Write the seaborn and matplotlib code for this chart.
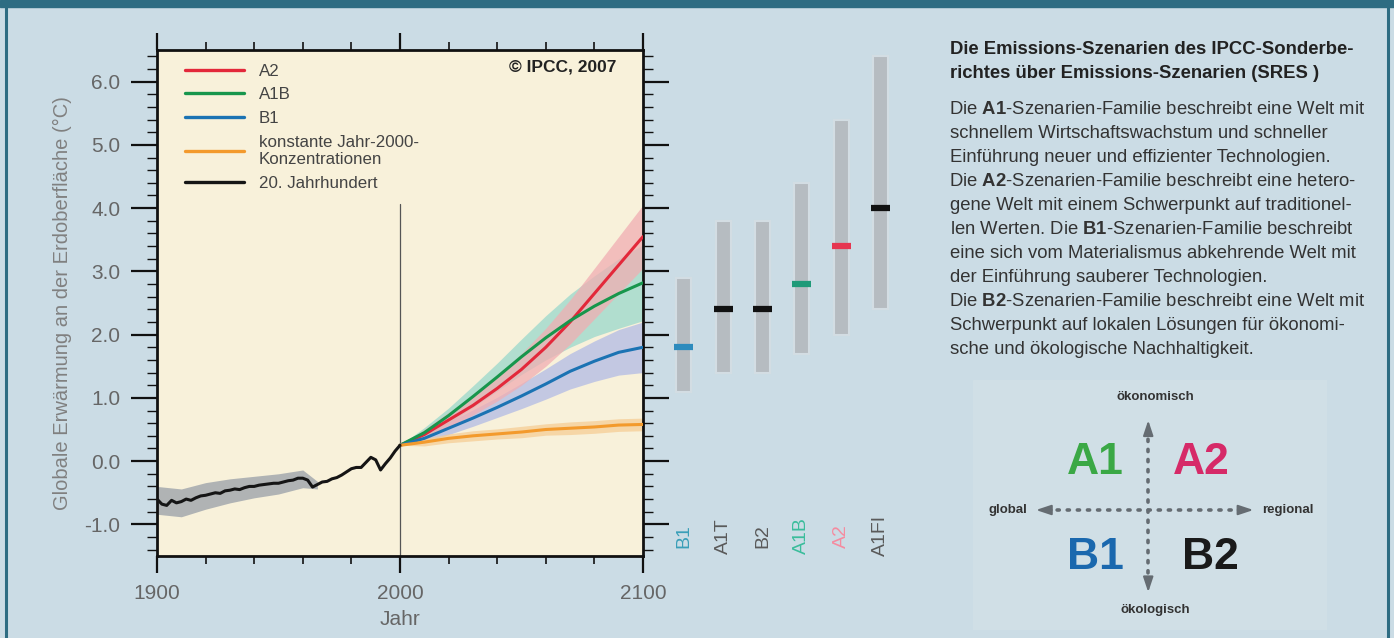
import numpy as np
import pandas as pd
import seaborn as sns
import matplotlib.pyplot as plt
from matplotlib.lines import Line2D
from matplotlib.ticker import MultipleLocator, FormatStrFormatter

# ---- data ----
hist_years = [1900, 1902, 1904, 1906, 1908, 1910, 1912, 1914, 1916, 1918,
              1920, 1922, 1924, 1926, 1928, 1930, 1932, 1934, 1936, 1938,
              1940, 1942, 1944, 1946, 1948, 1950, 1952, 1954, 1956, 1958,
              1960, 1962, 1964, 1966, 1968, 1970, 1972, 1974, 1976, 1978,
              1980, 1982, 1984, 1986, 1988, 1990, 1992, 1994, 1996, 1998, 2000]
hist_temp = [-0.60, -0.68, -0.70, -0.62, -0.66, -0.64, -0.60, -0.62, -0.58, -0.55,
             -0.54, -0.52, -0.50, -0.51, -0.47, -0.46, -0.44, -0.45, -0.42, -0.40,
             -0.40, -0.38, -0.37, -0.36, -0.35, -0.35, -0.33, -0.31, -0.30, -0.27,
             -0.27, -0.30, -0.41, -0.37, -0.33, -0.32, -0.28, -0.26, -0.22, -0.17,
             -0.12, -0.10, -0.10, -0.02, 0.06, 0.02, -0.14, -0.04, 0.05, 0.16, 0.25]
hist_band_years = [1900, 1910, 1920, 1930, 1940, 1950, 1960, 1966]
hist_band_lo = [-0.84, -0.88, -0.76, -0.66, -0.58, -0.52, -0.42, -0.44]
hist_band_hi = [-0.40, -0.44, -0.34, -0.28, -0.24, -0.20, -0.14, -0.32]

proj_years = [2000, 2010, 2020, 2030, 2040, 2050, 2060, 2070, 2080, 2090, 2100]
a2 = [0.25, 0.42, 0.65, 0.88, 1.15, 1.45, 1.80, 2.20, 2.65, 3.10, 3.55]
a1b = [0.25, 0.45, 0.72, 1.02, 1.33, 1.65, 1.95, 2.22, 2.45, 2.65, 2.82]
b1 = [0.25, 0.36, 0.52, 0.68, 0.85, 1.03, 1.22, 1.42, 1.58, 1.72, 1.80]
const2000 = [0.25, 0.30, 0.36, 0.40, 0.43, 0.46, 0.50, 0.52, 0.54, 0.57, 0.58]
a2_spread = [0.0, 0.08, 0.12, 0.15, 0.20, 0.25, 0.30, 0.35, 0.40, 0.45, 0.50]
a1b_spread = [0.0, 0.08, 0.12, 0.17, 0.22, 0.28, 0.35, 0.42, 0.48, 0.55, 0.60]
b1_spread = [0.0, 0.07, 0.10, 0.13, 0.16, 0.20, 0.24, 0.28, 0.32, 0.36, 0.40]
const_spread = [0.0, 0.06, 0.07, 0.08, 0.08, 0.09, 0.09, 0.10, 0.10, 0.10, 0.10]

bar_names = ["B1", "A1T", "B2", "A1B", "A2", "A1FI"]
bar_low = [1.1, 1.4, 1.4, 1.7, 2.0, 2.4]
bar_high = [2.9, 3.8, 3.8, 4.4, 5.4, 6.4]
bar_best = [1.8, 2.4, 2.4, 2.8, 3.4, 4.0]

text_title = ["Die Emissions-Szenarien des IPCC-Sonderbe-",
              "richtes über Emissions-Szenarien (SRES )"]
text_body = [r"Die $\mathbf{A1}$-Szenarien-Familie beschreibt eine Welt mit",
             "schnellem Wirtschaftswachstum und schneller",
             "Einführung neuer und effizienter Technologien.",
             r"Die $\mathbf{A2}$-Szenarien-Familie beschreibt eine hetero-",
             "gene Welt mit einem Schwerpunkt auf traditionel-",
             r"len Werten. Die $\mathbf{B1}$-Szenarien-Familie beschreibt",
             "eine sich vom Materialismus abkehrende Welt mit",
             "der Einführung sauberer Technologien.",
             r"Die $\mathbf{B2}$-Szenarien-Familie beschreibt eine Welt mit",
             "Schwerpunkt auf lokalen Lösungen für ökonomi-",
             "sche und ökologische Nachhaltigkeit."]

# ---- style ----
sns.set_style("ticks")
plt.rcParams['font.family'] = ['Liberation Sans', 'DejaVu Sans']
plt.rcParams['mathtext.fontset'] = 'custom'
plt.rcParams['mathtext.rm'] = 'Liberation Sans'
plt.rcParams['mathtext.bf'] = 'Liberation Sans:bold'
plt.rcParams['axes.unicode_minus'] = False

page_bg = "#cbdce5"
frame_col = "#2e6c82"
cols = {"A2": "#e3283a", "A1B": "#17964c", "B1": "#1b73b3",
        "konstante Jahr-2000-\nKonzentrationen": "#f39a2c",
        "20. Jahrhundert": "#151515"}
bands = {"A2": "#f1aeb2", "A1B": "#9ad8cc", "B1": "#b2bbe6", "const": "#f6cd95"}

fig = plt.figure(figsize=(13.94, 6.38), dpi=100, facecolor=page_bg)

# page frame
fig.patches.append(plt.Rectangle((0, 638 - 7), 1394, 7, transform=None,
                                 color=frame_col, zorder=0))
fig.add_artist(Line2D([6 / 1394, 6 / 1394], [0, 1], color=frame_col, lw=2.2))
fig.add_artist(Line2D([1388 / 1394, 1388 / 1394], [0, 1], color=frame_col, lw=2.2))

# ---- main time series axes ----
ax = fig.add_axes([157 / 1394, (638 - 556) / 638, 486 / 1394, 506 / 638])
ax.set_facecolor("#f8f1da")

ax.fill_between(hist_band_years, hist_band_lo, hist_band_hi, color="#9ea4ab",
                alpha=0.8, lw=0, zorder=1)
p = np.array(proj_years)
for name, mean, spr in [("B1", b1, b1_spread), ("A1B", a1b, a1b_spread),
                        ("A2", a2, a2_spread), ("const", const2000, const_spread)]:
    m = np.array(mean)
    s = np.array(spr)
    ax.fill_between(p, m - s, m + s, color=bands[name], alpha=0.75, lw=0, zorder=1)

df = pd.concat([
    pd.DataFrame({"Jahr": hist_years, "T": hist_temp, "Szenario": "20. Jahrhundert"}),
    pd.DataFrame({"Jahr": proj_years, "T": const2000,
                  "Szenario": "konstante Jahr-2000-\nKonzentrationen"}),
    pd.DataFrame({"Jahr": proj_years, "T": b1, "Szenario": "B1"}),
    pd.DataFrame({"Jahr": proj_years, "T": a1b, "Szenario": "A1B"}),
    pd.DataFrame({"Jahr": proj_years, "T": a2, "Szenario": "A2"}),
])
order = ["A2", "A1B", "B1", "konstante Jahr-2000-\nKonzentrationen", "20. Jahrhundert"]
sns.lineplot(data=df, x="Jahr", y="T", hue="Szenario", hue_order=order,
             palette=cols, linewidth=2.2, legend=False, ax=ax, zorder=3)

ax.axvline(2000, ymin=0, ymax=0.695, color="#555555", lw=0.9, zorder=2)

ax.set_xlim(1900, 2100)
ax.set_ylim(-1.5, 6.5)
ax.xaxis.set_major_locator(MultipleLocator(100))
ax.xaxis.set_minor_locator(MultipleLocator(20))
ax.yaxis.set_major_locator(MultipleLocator(1))
ax.yaxis.set_minor_locator(MultipleLocator(0.2))
ax.yaxis.set_major_formatter(FormatStrFormatter("%.1f"))
ax.tick_params(axis="x", which="both", top=True, direction="out", colors="#111111",
               labelcolor="#666666", labelsize=15)
ax.tick_params(axis="x", which="major", length=12, width=1.6, pad=8.5)
ax.tick_params(axis="x", which="minor", length=6, width=1.2)
ax.tick_params(axis="y", which="both", right=True, direction="out", colors="#111111",
               labelcolor="#666666", labelsize=15)
ax.tick_params(axis="y", which="major", length=19, width=1.6, pad=7.5)
ax.tick_params(axis="y", which="minor", length=7, width=1.0)
for sp in ax.spines.values():
    sp.set_linewidth(2)
    sp.set_color("#111111")
ax.set_xlabel("Jahr", fontsize=15, color="#666666", labelpad=5)
ax.set_ylabel("Globale Erwärmung an der Erdoberfläche (°C)", fontsize=14.5,
              color="#808080", labelpad=9)

handles = [Line2D([], [], color=cols[k], lw=2.4) for k in order]
ax.legend(handles, order, loc="upper left", bbox_to_anchor=(0.04, 0.99),
          frameon=False, fontsize=12.2, handlelength=3.5, handletextpad=0.85,
          labelspacing=0.52, borderpad=0, labelcolor="#444444")
ax.text(0.946, 0.966, "© IPCC, 2007", transform=ax.transAxes, ha="right", va="center",
        fontsize=12.5, fontweight="bold", color="#222222")

# ---- range bars (right of 2100) ----
ax2 = fig.add_axes([643 / 1394, (638 - 556) / 638, 267 / 1394, 506 / 638], sharey=ax)
ax2.axis("off")
pos = np.arange(len(bar_names))
heights = np.array(bar_high) - np.array(bar_low)
ax2.bar(pos, heights, bottom=bar_low, width=0.38, color="#b6bcc1",
        edgecolor="#d3dde3", linewidth=1.5, zorder=1)
best_cols = ["#2d8bbd", "#111111", "#111111", "#1f9a78", "#e63550", "#111111"]
label_cols = ["#3a9fb8", "#5a5a5a", "#5a5a5a", "#3bbd9c", "#f58ca0", "#5a5a5a"]
ax2.hlines(bar_best, pos - 0.24, pos + 0.24, colors=best_cols, lw=4.5, zorder=2)
for i, name in enumerate(bar_names):
    ax2.text(pos[i], -1.18, name, rotation=90, ha="center", va="center",
             fontsize=14, color=label_cols[i])
ax2.set_xlim(-1.04, 5.75)

# ---- explanatory text ----
fig.text(950 / 1394, 1 - 50 / 638, text_title[0], fontsize=13.3, fontweight="bold",
         color="#222222", va="center")
fig.text(950 / 1394, 1 - 73 / 638, text_title[1], fontsize=13.3, fontweight="bold",
         color="#222222", va="center")
for i, line in enumerate(text_body):
    x0 = 949 if line.startswith("Die $") else 950
    fig.text(x0 / 1394, 1 - (109 + 24 * i) / 638, line, fontsize=13.3,
             color="#333333", va="center")

# ---- scenario diagram ----
ax3 = fig.add_axes([973 / 1394, (638 - 630) / 638, 354 / 1394, 250 / 638])
ax3.set_xlim(-1, 1)
ax3.set_ylim(-1, 1)
ax3.axis("off")
ax3.add_patch(plt.Rectangle((-1, -1), 2, 2, color="#d0dfe6", zorder=0))
dot = dict(color="#656c72", lw=2.6, linestyle=(0, (0.6, 2.2)),
           dash_capstyle="round", zorder=1)
ax3.plot([-0.01, -0.01], [-0.62, 0.60], **dot)
ax3.plot([-0.58, 0.52], [-0.04, -0.04], **dot)
arr = dict(arrowstyle="-|>,head_length=0.9,head_width=0.3", color="#656c72", lw=1.5)
ax3.annotate("", xy=(-0.01, 0.70), xytext=(-0.01, 0.58), arrowprops=arr)
ax3.annotate("", xy=(-0.01, -0.72), xytext=(-0.01, -0.60), arrowprops=arr)
ax3.annotate("", xy=(-0.66, -0.04), xytext=(-0.54, -0.04), arrowprops=arr)
ax3.annotate("", xy=(0.60, -0.04), xytext=(0.48, -0.04), arrowprops=arr)
small = dict(fontsize=9.5, fontweight="bold", color="#333333", ha="center", va="center")
ax3.text(0.03, 0.86, "ökonomisch", **small)
ax3.text(0.03, -0.84, "ökologisch", **small)
ax3.text(-0.80, -0.04, "global", **small)
ax3.text(0.78, -0.04, "regional", **small)
big = dict(fontsize=32, fontweight="bold", ha="center", va="center")
ax3.text(-0.31, 0.34, "A1", color="#3aa845", **big)
ax3.text(0.29, 0.34, "A2", color="#d62a68", **big)
ax3.text(-0.31, -0.42, "B1", color="#1a68ae", **big)
ax3.text(0.34, -0.42, "B2", color="#1a1a1a", **big)

plt.savefig("out.png", dpi=100, facecolor=page_bg)
